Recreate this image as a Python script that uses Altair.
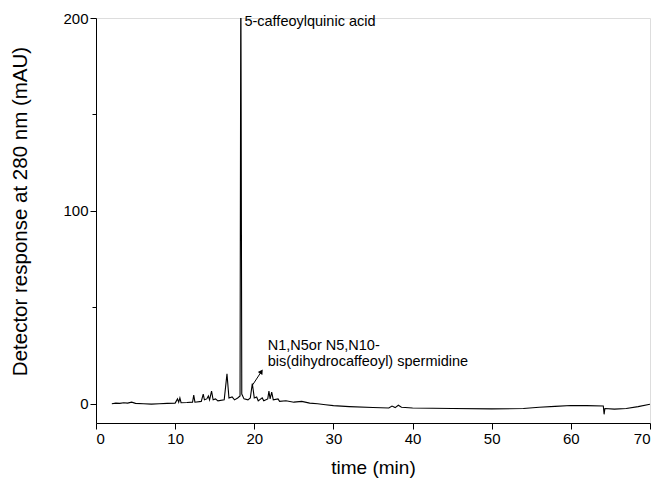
import altair as alt
import pandas as pd

# chromatogram trace (time in min, response in mAU)
times = [2.0, 2.5, 3.0, 3.5, 4.0, 4.5, 5.0, 6.0, 7.0, 8.0, 9.0, 10.0,
         10.3, 10.45, 10.6, 10.75, 11.5, 12.2, 12.35, 12.5, 13.3, 13.55, 13.7,
         14.0, 14.2, 14.35, 14.6, 14.8, 15.1, 15.4, 16.2, 16.55, 16.8, 17.2,
         17.5, 17.9, 18.2, 18.3, 18.42, 18.7, 19.2, 19.5, 19.75, 20.0, 20.3, 20.5, 21.0,
         21.2, 21.7, 21.85, 22.0, 22.2, 22.4, 23.0, 23.2, 24.0, 25.0, 26.0,
         27.0, 28.0, 29.0, 30.0, 32.0, 35.0, 37.0, 37.4, 37.8, 38.2, 38.6,
         40.0, 45.0, 50.0, 54.0, 56.0, 58.0, 60.0, 62.0, 64.1, 64.2, 64.3,
         65.5, 67.0, 68.5, 70.0]
values = [0.0, 0.3, 0.2, 0.5, 0.3, 0.8, 0.2, 0.0, -0.2, 0.0, 0.2, 0.3,
          2.5, 0.8, 3.0, 0.5, 0.6, 0.8, 4.5, 0.8, 1.2, 5.0, 2.0,
          2.5, 4.0, 2.0, 6.5, 2.0, 2.5, 1.5, 2.0, 15.5, 3.0, 3.5,
          2.0, 3.0, 4.0, 230.0, 5.0, 2.5, 2.0, 3.0, 10.5, 3.0, 3.5, 1.5, 3.0,
          1.5, 2.5, 6.5, 2.5, 6.0, 2.0, 2.5, 1.2, 1.5, 0.8, 1.2,
          0.3, 0.0, -0.5, -1.0, -1.5, -2.0, -2.2, -1.2, -2.0, -0.8, -1.8,
          -2.2, -2.5, -2.7, -2.5, -1.8, -1.4, -0.9, -1.0, -1.2, -5.5, -2.5,
          -2.8, -2.5, -1.5, -0.3]

# annotations
label_text = ["5-caffeoylquinic acid", "N1,N5or N5,N10-", "bis(dihydrocaffeoyl) spermidine"]
label_x = [18.75, 21.7, 21.7]
label_y = [198.0, 30.0, 21.8]

arrow_x = [19.8, 20.9]
arrow_y = [9.8, 16.7]

FONT = "Liberation Sans"

trace = pd.DataFrame({"t": times, "v": values})
labels = pd.DataFrame({"text": label_text, "x": label_x, "y": label_y})
arrow = pd.DataFrame({"x": arrow_x, "y": arrow_y})
arrow_head = arrow.iloc[[1]]

xscale = alt.Scale(domain=[0, 70], nice=False, zero=False)
yscale = alt.Scale(domain=[-10, 200], nice=False, zero=False)

x_axis = alt.Axis(
    values=list(range(0, 75, 5)),
    labelExpr="datum.value % 10 === 0 ? datum.label : ''",
    tickSize={"condition": {"test": "datum.value % 10 === 0", "value": 6}, "value": 4},
    grid=False, title="time (min)", labelFontSize=15, titleFontSize=19,
    labelPadding=2, titleY=44, titleBaseline="middle",
    domainColor="black", tickColor="black", labelColor="black", titleColor="black",
    titleFontWeight="normal", labelFont=FONT, titleFont=FONT,
)
y_axis = alt.Axis(
    values=[0, 50, 100, 150, 200],
    labelExpr="datum.value % 100 === 0 ? datum.label : ''",
    tickSize={"condition": {"test": "datum.value % 100 === 0", "value": 6}, "value": 4},
    grid=False, title="Detector response at 280 nm (mAU)", labelFontSize=15,
    titleFontSize=20.5, labelPadding=2, titleX=-76, titleY=193,
    titleBaseline="middle", titleAngle=-90,
    domainColor="black", tickColor="black", labelColor="black", titleColor="black",
    titleFontWeight="normal", labelFont=FONT, titleFont=FONT,
)

line = alt.Chart(trace).mark_line(color="black", strokeWidth=1.1, clip=True).encode(
    x=alt.X("t:Q", scale=xscale, axis=x_axis),
    y=alt.Y("v:Q", scale=yscale, axis=y_axis),
    order="t:Q",
)

text = alt.Chart(labels).mark_text(
    align="left", baseline="middle", font=FONT, fontSize=14.5, color="black"
).encode(x=alt.X("x:Q", scale=xscale), y=alt.Y("y:Q", scale=yscale), text="text:N")

arrow_line = alt.Chart(arrow).mark_line(color="black", strokeWidth=1).encode(
    x=alt.X("x:Q", scale=xscale), y=alt.Y("y:Q", scale=yscale)
)
arrow_tip = alt.Chart(arrow_head).mark_point(
    shape="triangle-up", filled=True, color="black", size=30, angle=34, opacity=1
).encode(x=alt.X("x:Q", scale=xscale), y=alt.Y("y:Q", scale=yscale))

chart = alt.layer(line, text, arrow_line, arrow_tip).properties(
    width=554, height=405,
    autosize=alt.AutoSizeParams(type="none"),
    padding={"left": 88, "top": 10, "right": 3, "bottom": 55},
).configure_view(stroke=None).configure(background="white")

chart.save("out.html", embed_options={"renderer": "svg", "actions": False})
